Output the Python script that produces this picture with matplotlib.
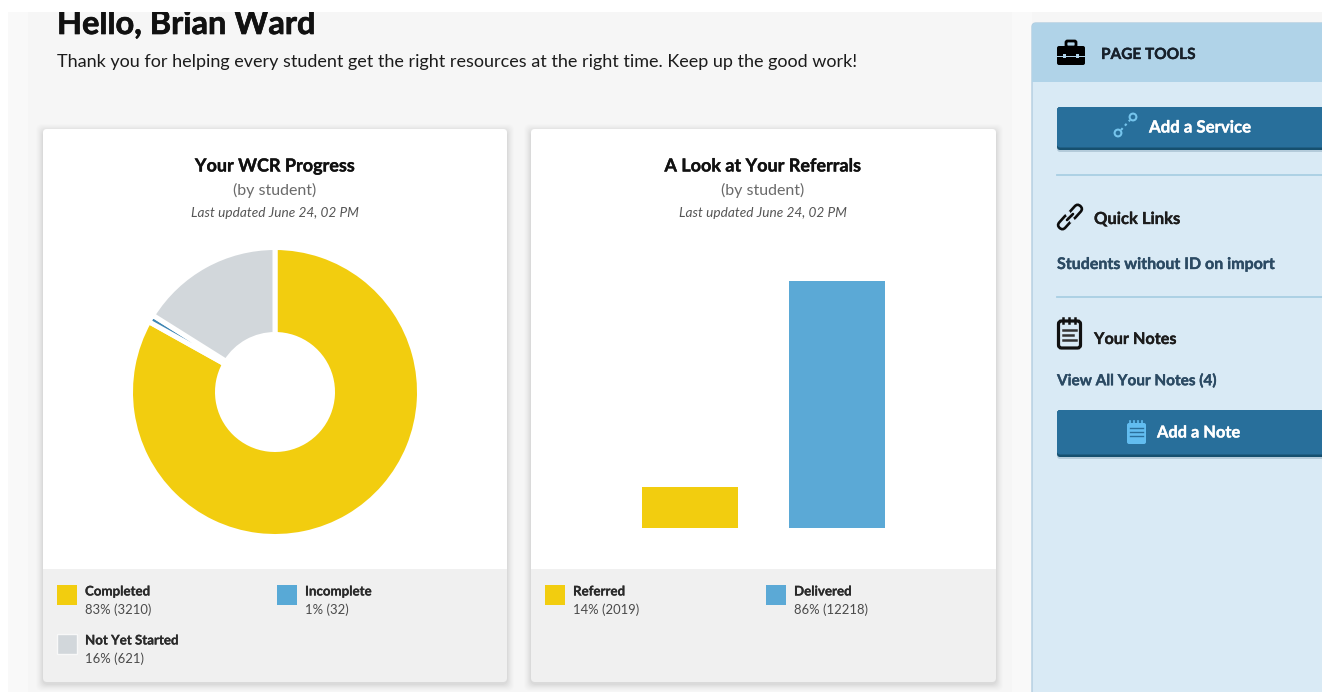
import matplotlib
matplotlib.use("Agg")
import matplotlib.pyplot as plt
import matplotlib.patheffects as pe
from matplotlib.patches import Rectangle, FancyBboxPatch, Circle
from matplotlib.transforms import Affine2D

W, H = 1322, 692

progress_labels = ["Completed", "Incomplete", "Not Yet Started"]
progress_counts = [3210, 32, 621]
progress_pcts = [83, 1, 16]
progress_colors = ["#f2cd0f", "#3f86b4", "#d2d7db"]
progress_swatches = ["#f2cd0f", "#58a9d6", "#d2d7db"]

referral_labels = ["Referred", "Delivered"]
referral_counts = [2019, 12218]
referral_pcts = [14, 86]
referral_colors = ["#f2cd0f", "#5ba9d6"]

plt.rcParams["font.family"] = ["Lato", "DejaVu Sans"]


def px(size):
    return size * 0.72


def axes_at(fig, left, top, right, bottom):
    return fig.add_axes([left / W, 1 - bottom / H, (right - left) / W, (bottom - top) / H])


def bold_text(ax, x, y, s, size, color, ha="left", stroke=0.25, va="center"):
    # a thin outline gives the heavier weight of the page headings
    ax.text(x, y, s, ha=ha, va=va, fontsize=px(size), fontweight="bold", color=color,
            path_effects=[pe.withStroke(linewidth=stroke, foreground=color)])


def card(ax, x0, y0, x1, y1, footer_y):
    # soft drop shadow built from stacked translucent boxes
    for grow, alpha in [(7, 0.008), (6, 0.01), (5, 0.012), (4, 0.015), (3, 0.018), (2, 0.02), (1, 0.025)]:
        ax.add_patch(FancyBboxPatch((x0 - grow, y0 - grow + 2), x1 - x0 + 2 * grow, y1 - y0 + 2 * grow,
                                    boxstyle="round,pad=0,rounding_size=6", fc="black", ec="none", alpha=alpha))
    ax.add_patch(FancyBboxPatch((x0, y0), x1 - x0, y1 - y0, boxstyle="round,pad=0,rounding_size=4",
                                fc="#f0f0f0", ec="none"))
    ax.add_patch(FancyBboxPatch((x0, y0), x1 - x0, footer_y - y0 + 4, boxstyle="round,pad=0,rounding_size=4",
                                fc="white", ec="none"))
    ax.add_patch(Rectangle((x0, footer_y), x1 - x0, 6, fc="#f0f0f0", ec="none"))


def card_heading(ax, cx, title):
    bold_text(ax, cx, 166, title, 18, "#111111", ha="center")
    ax.text(cx, 190, "(by student)", ha="center", va="center", fontsize=px(16), color="#6a6a6a")
    ax.text(cx, 213, "Last updated June 24, 02 PM", ha="center", va="center", fontsize=px(13.6),
            style="italic", color="#555555")


def legend_item(ax, x, y, color, label, pct, count, edge="none"):
    ax.add_patch(Rectangle((x, y), 20, 20, fc=color, ec=edge, lw=1))
    bold_text(ax, x + 28, y + 6.5, label, 13.3, "#2a2a2a", stroke=0.15)
    ax.text(x + 28, y + 24.5, f"{pct}% ({count})", ha="left", va="center", fontsize=px(13), color="#4a4a4a")


def button(ax, x0, y0, x1, y1):
    ax.add_patch(FancyBboxPatch((x0, y0), x1 - x0, y1 - y0 + 2, boxstyle="round,pad=0,rounding_size=3",
                                fc="#b4cbda", ec="none"))
    ax.add_patch(FancyBboxPatch((x0, y0), x1 - x0, y1 - y0, boxstyle="round,pad=0,rounding_size=3",
                                fc="#16506f", ec="none"))
    ax.add_patch(FancyBboxPatch((x0, y0), x1 - x0, y1 - y0 - 2.5, boxstyle="round,pad=0,rounding_size=3",
                                fc="#286f9b", ec="none"))


def toolbox_icon(ax):
    ax.add_patch(FancyBboxPatch((1057, 46), 28, 19, boxstyle="round,pad=0,rounding_size=2", fc="black", ec="none"))
    ax.add_patch(FancyBboxPatch((1066, 41), 10, 6, boxstyle="round,pad=0,rounding_size=1.5",
                                fc="none", ec="black", lw=2))
    ax.add_patch(Rectangle((1057, 55.5), 28, 1.6, fc="#b0d3e8", ec="none"))
    ax.add_patch(Rectangle((1063, 54), 3, 4, fc="#b0d3e8", ec="none"))
    ax.add_patch(Rectangle((1076, 54), 3, 4, fc="#b0d3e8", ec="none"))


def chain_icon(ax):
    # two tilted capsules, opened where they meet
    for cx, cy in [(1065, 222), (1075, 212)]:
        link = FancyBboxPatch((cx - 8, cy - 4), 16, 8, boxstyle="round,pad=0,rounding_size=4",
                              fc="none", ec="#0c0c0c", lw=1.9)
        link.set_transform(Affine2D().rotate_deg_around(cx, cy, -48) + ax.transData)
        ax.add_patch(link)
    ax.plot([1067, 1073], [212, 222], color="#d9e9f5", lw=3.5, solid_capstyle="butt")
    ax.plot([1067, 1073], [220, 214], color="#0c0c0c", lw=1.9, solid_capstyle="round")


def notes_icon(ax):
    ax.add_patch(FancyBboxPatch((1058.5, 321), 22, 27, boxstyle="round,pad=0,rounding_size=3",
                                fc="none", ec="#111111", lw=2.3))
    for x in (1063, 1069, 1075):
        ax.plot([x, x], [318, 323], color="#111111", lw=1.8)
    for y, x1 in ((330, 1076), (335, 1073), (340, 1076)):
        ax.plot([1063, x1], [y, y], color="#333333", lw=1.8)


def service_icon(ax):
    color = "#75c4ec"
    ax.add_patch(Circle((1118, 133), 3.4, fc="none", ec=color, lw=1.5))
    ax.add_patch(Circle((1133, 117), 3.4, fc="none", ec=color, lw=1.5))
    ax.plot([1121, 1130], [130, 120], color=color, lw=1.5, ls=(0, (1.2, 1.6)))


def note_button_icon(ax):
    color = "#62bdf0"
    ax.add_patch(FancyBboxPatch((1127, 423), 19, 21, boxstyle="round,pad=0,rounding_size=2", fc=color, ec="none"))
    for x in (1130, 1134, 1138, 1142):
        ax.plot([x, x], [421, 424], color=color, lw=1.2)
    for y in (428, 432, 436):
        ax.plot([1130, 1143], [y, y], color="#2a6f9b", lw=1)


fig = plt.figure(figsize=(W / 100, H / 100), dpi=100, facecolor="white")

# page layer, addressed in pixels from the top left
page = axes_at(fig, 0, 0, W, H)
page.set_xlim(0, W)
page.set_ylim(H, 0)
page.axis("off")

page.add_patch(Rectangle((8, 12), W - 8, H - 12, fc="#f6f6f6", ec="none"))
page.add_patch(Rectangle((8, 12), 20, H - 12, fc="#f9f9f9", ec="none"))
page.add_patch(Rectangle((1012, 12), 20, H - 12, fc="#f9f9f9", ec="none"))
bold_text(page, 57, 34, "Hello, Brian Ward", 32.5, "#111111", stroke=0.5, va="baseline")
page.text(57, 62.5, "Thank you for helping every student get the right resources at the right time. Keep up the good work!",
          ha="left", va="center", fontsize=px(18.05), color="#1c1c1c")
page.add_patch(Rectangle((0, 0), W, 12, fc="white", ec="none", zorder=5))

card(page, 43, 129, 507, 682, 569)
card(page, 531, 129, 996, 682, 569)
card_heading(page, 275, "Your WCR Progress")
card_heading(page, 763, "A Look at Your Referrals")

swatch_spots = [(57, 585), (277, 585), (57, 634)]
swatch_edges = ["none", "none", "#f8f8f8"]
for i, label in enumerate(progress_labels):
    legend_item(page, *swatch_spots[i], progress_swatches[i], label, progress_pcts[i], progress_counts[i],
                swatch_edges[i])
referral_spots = [(545, 585), (766, 585)]
for i, label in enumerate(referral_labels):
    legend_item(page, *referral_spots[i], referral_colors[i], label, referral_pcts[i], referral_counts[i])

# side panel
page.add_patch(FancyBboxPatch((1032, 23), W - 1032 + 6, H - 23 + 6, boxstyle="round,pad=0,rounding_size=4",
                              fc="#d9eaf5", ec="#b2cde0", lw=1))
page.add_patch(FancyBboxPatch((1032, 23), W - 1032 + 6, 59, boxstyle="round,pad=0,rounding_size=4",
                              fc="#b0d3e8", ec="none"))
page.add_patch(Rectangle((1032, 72), W - 1032, 10, fc="#b0d3e8", ec="none"))

toolbox_icon(page)
bold_text(page, 1101, 55, "PAGE TOOLS", 15.4, "#17202a")

button(page, 1057, 107, W + 4, 150)
service_icon(page)
bold_text(page, 1149, 127.5, "Add a Service", 16.8, "white")

page.plot([1057, W], [175, 175], color="#a9cfe3", lw=1.3)
chain_icon(page)
bold_text(page, 1094, 219, "Quick Links", 16.6, "#1c1c1c")
bold_text(page, 1057, 265, "Students without ID on import", 16, "#2b4a63")
page.plot([1057, W], [297, 297], color="#a9cfe3", lw=1.3)

notes_icon(page)
bold_text(page, 1094, 340, "Your Notes", 16.2, "#1c1c1c")
bold_text(page, 1057, 381, "View All Your Notes (4)", 15.3, "#2b4a63")

button(page, 1057, 410, W + 4, 457)
note_button_icon(page)
bold_text(page, 1157, 433.5, "Add a Note", 16.4, "white")

# donut
ax_pie = axes_at(fig, 133, 250, 417, 534)
ax_pie.pie(progress_counts, colors=progress_colors, startangle=90, counterclock=False, radius=144.5 / 142,
           wedgeprops=dict(width=87 / 142, edgecolor="white", linewidth=3.6))
ax_pie.set_xlim(-1, 1)
ax_pie.set_ylim(-1, 1)

# bars
ax_bar = axes_at(fig, 543, 281, 984, 528)
ax_bar.bar([0, 1], referral_counts, width=96 / 147, color=referral_colors)
ax_bar.set_xlim(-1, 2)
ax_bar.set_ylim(0, max(referral_counts))
ax_bar.axis("off")

fig.savefig("out.png", dpi=100)
